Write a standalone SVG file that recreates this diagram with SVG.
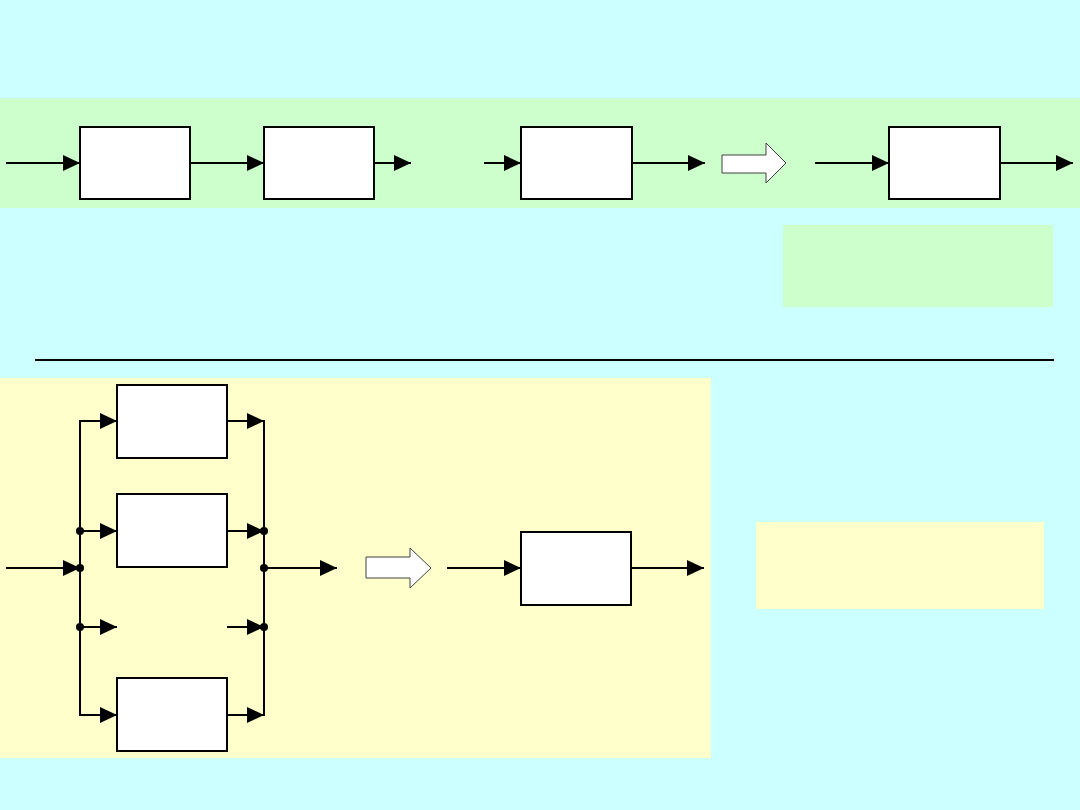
<svg xmlns="http://www.w3.org/2000/svg" width="1080" height="810" viewBox="0 0 1080 810">
<style>
.blk{fill:#fff;stroke:#000;stroke-width:2}
.ln{fill:none;stroke:#000;stroke-width:2}
.la{fill:none;stroke:#000;stroke-width:2;marker-end:url(#ah)}
.dot{fill:#000}
.big{fill:#fff;stroke:#404040;stroke-width:1}
</style>
<defs>
<marker id="ah" markerUnits="userSpaceOnUse" markerWidth="18" markerHeight="16" viewBox="0 0 17 16" refX="17" refY="8" orient="auto">
<path d="M0,0 L17,8 L0,16 z" fill="#000"/>
</marker>
</defs>
<rect x="0" y="0" width="1080" height="810" fill="#CCFFFF"/>
<rect x="0" y="98" width="1080" height="110" fill="#CCFFCC"/>
<rect x="783" y="225" width="270" height="82" fill="#CCFFCC"/>
<rect x="0" y="378" width="711" height="380" fill="#FFFFCC"/>
<rect x="756" y="522" width="288" height="87" fill="#FFFFCC"/>
<line x1="35" y1="360" x2="1054" y2="360" stroke="#000" stroke-width="2"/>

<g id="top-b1"><rect class="blk" x="80" y="127" width="110" height="72"/></g>
<g id="top-b2"><rect class="blk" x="264" y="127" width="110" height="72"/></g>
<g id="top-b3"><rect class="blk" x="521" y="127" width="111" height="72"/></g>
<g id="top-b4"><rect class="blk" x="889" y="127" width="111" height="72"/></g>
<g id="top-hollow"><path class="big" d="M722,155 L766,155 L766,143 L786,163 L766,183 L766,173 L722,173 z"/></g>

<g id="p-b1"><rect class="blk" x="117" y="385" width="110" height="73"/></g>
<g id="p-b2"><rect class="blk" x="117" y="494" width="110" height="73"/></g>
<g id="p-b3"><rect class="blk" x="117" y="678" width="110" height="73"/></g>
<g id="bot-hollow"><path class="big" d="M366,557 L410,557 L410,548 L431,568 L410,588 L410,578 L366,578 z"/></g>
<g id="bot-b"><rect class="blk" x="521" y="532" width="110" height="73"/></g>

<g id="connectors">
<line class="la" x1="6" y1="163" x2="80" y2="163"/>
<line class="la" x1="190" y1="163" x2="264" y2="163"/>
<line class="la" x1="374" y1="163" x2="411" y2="163"/>
<line class="la" x1="484" y1="163" x2="521" y2="163"/>
<line class="la" x1="632" y1="163" x2="705" y2="163"/>
<line class="la" x1="815" y1="163" x2="889" y2="163"/>
<line class="la" x1="1000" y1="163" x2="1073" y2="163"/>

<line class="la" x1="6" y1="568" x2="80" y2="568"/>
<polyline class="ln" points="117,421 80,421 80,715 100,715"/>
<line class="la" x1="80" y1="421" x2="117" y2="421"/>
<line class="la" x1="80" y1="531" x2="117" y2="531"/>
<line class="la" x1="80" y1="627" x2="117" y2="627"/>
<line class="la" x1="80" y1="715" x2="117" y2="715"/>
<line class="la" x1="227" y1="421" x2="264" y2="421"/>
<line class="la" x1="227" y1="531" x2="264" y2="531"/>
<line class="la" x1="227" y1="627" x2="264" y2="627"/>
<line class="la" x1="227" y1="715" x2="264" y2="715"/>
<line class="ln" x1="264" y1="420" x2="264" y2="716"/>
<line class="la" x1="264" y1="568" x2="337" y2="568"/>
<circle class="dot" cx="80" cy="531" r="4"/>
<circle class="dot" cx="80" cy="568" r="4"/>
<circle class="dot" cx="80" cy="627" r="4"/>
<circle class="dot" cx="264" cy="531" r="4"/>
<circle class="dot" cx="264" cy="568" r="4"/>
<circle class="dot" cx="264" cy="627" r="4"/>

<line class="la" x1="447" y1="568" x2="521" y2="568"/>
<line class="la" x1="631" y1="568" x2="704" y2="568"/>
</g>
</svg>
